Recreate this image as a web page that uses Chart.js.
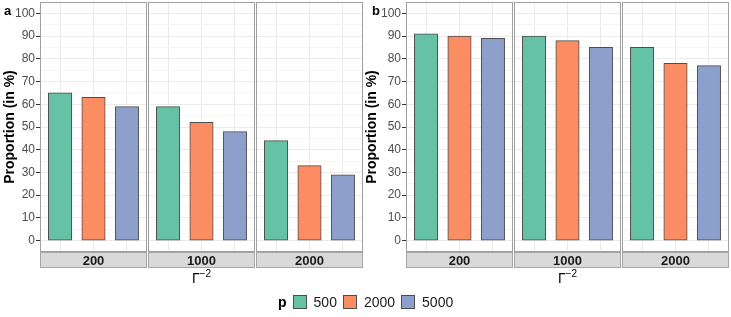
<!DOCTYPE html>
<html><head><meta charset="utf-8">
<script src="https://cdn.jsdelivr.net/npm/chart.js@4/dist/chart.umd.min.js"></script>
<style>
html,body{margin:0;padding:0;background:#fff;}
#wrap{position:relative;width:731px;height:317px;overflow:hidden;font-family:"Liberation Sans",Arial,sans-serif;}
#wrap canvas{position:absolute;top:0;}
.plab{position:absolute;font-weight:bold;font-size:13px;line-height:13px;color:#000;}
.xt{position:absolute;top:270px;width:60px;margin-left:-30px;text-align:center;font-size:14px;color:#000;}
.xt sup{font-size:10px;vertical-align:6px;line-height:0;}
#legend{position:absolute;left:278px;top:295px;display:flex;align-items:center;font-size:14px;color:#1a1a1a;line-height:14px;}
#legend .sw{width:12px;height:12px;border:1px solid #4d4d4d;margin-right:7px;}
#legend .tx{margin-right:6px;}
</style></head>
<body><div id="wrap"></div>
<script>
// ---- data ----
const facetLabels = ['200', '1000', '2000'];
const pLevels = ['500', '2000', '5000'];
const pColors = ['#66C2A5', '#FC8D62', '#8DA0CB'];
const valuesA200 = [65, 63, 59];
const valuesA1000 = [59, 52, 48];
const valuesA2000 = [44, 33, 29];
const valuesB200 = [91, 90, 89];
const valuesB1000 = [90, 88, 85];
const valuesB2000 = [85, 78, 77];
const yTicks = [0, 10, 20, 30, 40, 50, 60, 70, 80, 90, 100];
const yTitle = 'Proportion (in %)';
const panelTags = ['a', 'b'];

// ---- layout ----
const wrap = document.getElementById('wrap');
const FACET_W = 107, CANVAS_H = 270, STRIP_H = 16, PLOT_BOTTOM = 252;
const X_MIN = 0.4, X_MAX = pLevels.length + 0.6;
const BAR_W = 0.7 * FACET_W / (X_MAX - X_MIN);
const panels = [
  {tag: panelTags[0], axisLeft: 0, facetLefts: [40, 148, 256], values: [valuesA200, valuesA1000, valuesA2000]},
  {tag: panelTags[1], axisLeft: 362, facetLefts: [406, 514, 622], values: [valuesB200, valuesB1000, valuesB2000]}
];

// minor + major y grid positions
const yStep = yTicks[1] - yTicks[0];
const yAll = [];
for (let i = 0; i < yTicks.length; i++) {
  yAll.push(yTicks[i] - yStep / 2);
  yAll.push(yTicks[i]);
}
yAll.push(yTicks[yTicks.length - 1] + yStep / 2);
const isMajor = v => yTicks.includes(v);

const facetPlugin = {
  id: 'facetDeco',
  afterDraw(chart) {
    const {ctx, chartArea: a} = chart;
    const w = a.right - a.left;
    ctx.save();
    ctx.fillStyle = '#D9D9D9';
    ctx.fillRect(a.left, a.bottom, w, STRIP_H);
    ctx.strokeStyle = '#A6A6A6';
    ctx.lineWidth = 1;
    ctx.strokeRect(a.left + 0.5, a.bottom + 0.5, w - 1, STRIP_H - 1);
    ctx.strokeStyle = '#A0A0A0';
    ctx.strokeRect(a.left + 0.5, a.top + 0.5, w - 1, a.bottom - a.top - 1);
    ctx.fillStyle = '#1A1A1A';
    ctx.font = 'bold 13px "Liberation Sans", Arial, sans-serif';
    ctx.textAlign = 'center';
    ctx.textBaseline = 'middle';
    ctx.fillText(chart.options.plugins.facetDeco.label, a.left + w / 2, a.bottom + STRIP_H / 2 + 1);
    ctx.restore();
  }
};

panels.forEach(panel => {
  panel.facetLefts.forEach((fl, fi) => {
    const first = fi === 0;
    const cLeft = first ? panel.axisLeft : fl;
    const cW = fl + FACET_W - cLeft;
    const cv = document.createElement('canvas');
    cv.width = cW; cv.height = CANVAS_H;
    cv.style.left = cLeft + 'px';
    cv.style.width = cW + 'px'; cv.style.height = CANVAS_H + 'px';
    wrap.appendChild(cv);
    const vals = panel.values[fi];
    new Chart(cv, {
      type: 'bar',
      data: {
        datasets: [{
          label: facetLabels[fi],
          data: vals.map((v, k) => ({x: k + 1, y: v})),
          backgroundColor: pColors,
          borderColor: '#4D4D4D',
          borderWidth: 1,
          borderSkipped: false,
          barThickness: BAR_W
        }]
      },
      options: {
        responsive: false,
        animation: false,
        devicePixelRatio: 1,
        layout: {padding: {top: 2, bottom: CANVAS_H - PLOT_BOTTOM, left: 0, right: 0}},
        plugins: {legend: {display: false}, tooltip: {enabled: false}, facetDeco: {label: facetLabels[fi]}},
        scales: {
          x: {
            type: 'linear', min: X_MIN, max: X_MAX, offset: false,
            ticks: {display: false},
            border: {display: false},
            grid: {color: '#EBEBEB', lineWidth: 1, drawTicks: false, offset: false},
            afterBuildTicks: s => { s.ticks = pLevels.map((_, k) => ({value: k + 1})); },
            afterFit: s => { s.height = 0; s.paddingLeft = 0; s.paddingRight = 0; }
          },
          y: {
            type: 'linear', min: yAll[0], max: yAll[yAll.length - 1],
            border: {display: false},
            afterBuildTicks: s => { s.ticks = yAll.map(v => ({value: v})); },
            afterFit: s => { s.width = first ? fl - cLeft : 0; s.paddingTop = 0; s.paddingBottom = 0; },
            ticks: {
              display: first, autoSkip: false, padding: 1,
              color: '#4D4D4D',
              font: {family: '"Liberation Sans", Arial, sans-serif', size: 12},
              callback: v => isMajor(v) ? String(v) : ''
            },
            grid: {
              color: c => isMajor(c.tick.value) ? '#EBEBEB' : '#F5F5F5',
              lineWidth: 1,
              drawTicks: first, tickLength: 4, tickWidth: 1,
              tickColor: c => isMajor(c.tick.value) ? '#333333' : 'rgba(0,0,0,0)'
            },
            title: {
              display: first, text: yTitle, color: '#000',
              font: {family: '"Liberation Sans", Arial, sans-serif', size: 14, weight: 'bold'},
              padding: {top: 2, bottom: 0}
            }
          }
        }
      },
      plugins: [facetPlugin]
    });
  });
  // panel tag
  const t = document.createElement('div');
  t.className = 'plab';
  t.textContent = panel.tag;
  t.style.left = (panel.axisLeft + (panel.axisLeft ? 10 : 4)) + 'px';
  t.style.top = '4px';
  wrap.appendChild(t);
  // x-axis title
  const xt = document.createElement('div');
  xt.className = 'xt';
  xt.innerHTML = 'Γ<sup>−2</sup>';
  xt.style.left = ((panel.facetLefts[0] + panel.facetLefts[2] + FACET_W) / 2) + 'px';
  wrap.appendChild(xt);
});

// legend
const lg = document.createElement('div');
lg.id = 'legend';
let html = '<span style="font-weight:bold;margin-right:6px;color:#000">p</span>';
pLevels.forEach((p, i) => {
  html += '<span class="sw" style="background:' + pColors[i] + '"></span><span class="tx">' + p + '</span>';
});
lg.innerHTML = html;
wrap.appendChild(lg);
</script>
</body></html>
